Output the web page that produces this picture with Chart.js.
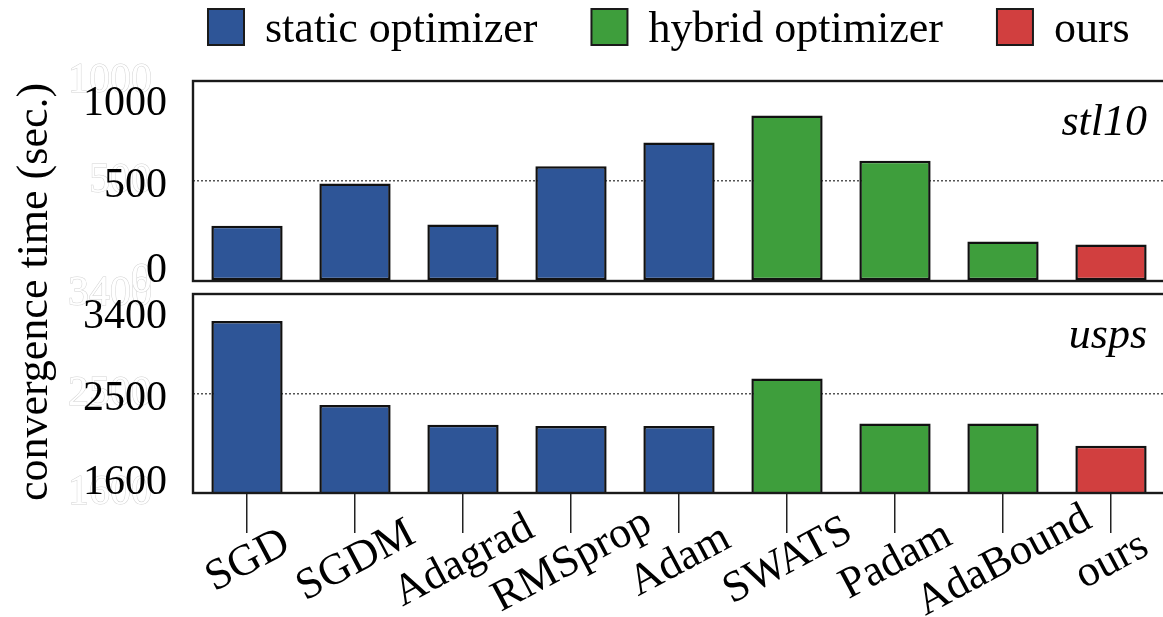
<!DOCTYPE html>
<html>
<head>
<meta charset="utf-8">
<script src="https://cdn.jsdelivr.net/npm/chart.js@4/dist/chart.umd.min.js"></script>
<style>
  html, body { margin: 0; padding: 0; background: #fff; overflow: hidden; width: 1163px; height: 617px; }
  #wrap { position: relative; width: 1163px; height: 617px; overflow: hidden; }
  #uspsPanel, #stl10Panel { position: absolute; left: 0; top: 0; }
</style>
</head>
<body>
<div id="wrap">
  <canvas id="uspsPanel" width="1180" height="617"></canvas>
  <canvas id="stl10Panel" width="1180" height="360"></canvas>
</div>
<script>
// ---- data ----
const optimizers = ['SGD', 'SGDM', 'Adagrad', 'RMSprop', 'Adam', 'SWATS', 'Padam', 'AdaBound', 'ours'];
const optimizerGroup = [0, 0, 0, 0, 0, 1, 1, 1, 2];
const groupNames = ['static optimizer', 'hybrid optimizer', 'ours'];
const groupColors = ['#2E5597', '#3E9E3C', '#D13F3F'];

const stl10Times = [276, 488, 283, 574, 693, 828, 601, 197, 182];
const uspsTimes = [3156, 2395, 2217, 2205, 2205, 2635, 2229, 2229, 2027];

const stl10Ticks = [0, 500, 1000];
const uspsTicks = [1600, 2500, 3400];

const yTitle = 'convergence time (sec.)';

// ---- styling ----
const SERIF = '"Liberation Serif", "Times New Roman", serif';
const PLOT_LEFT = 193;
const barColors = optimizerGroup.map(g => groupColors[g]);

// frame around each panel
const framePlugin = {
  id: 'panelFrame',
  afterDatasetsDraw(chart) {
    const { ctx, chartArea: a } = chart;
    ctx.save();
    ctx.strokeStyle = '#1a1a1a';
    ctx.lineWidth = 2.4;
    ctx.strokeRect(a.left, a.top, a.right - a.left, a.bottom - a.top);
    ctx.restore();
  }
};

// dark tick labels, kept inside each panel's vertical extent
function darkTickLabels(tickValues) {
  return {
    id: 'darkTickLabels',
    afterDraw(chart) {
      const { ctx, chartArea: a } = chart;
      const ys = chart.scales.y;
      ctx.save();
      ctx.font = '42px ' + SERIF;
      ctx.fillStyle = '#000';
      ctx.textAlign = 'right';
      ctx.textBaseline = 'alphabetic';
      tickValues.forEach(v => {
        let base = ys.getPixelForValue(v) + 16;
        base = Math.max(a.top + 34, Math.min(a.bottom + 1, base));
        ctx.fillText(String(v), a.left - 26, base);
      });
      ctx.restore();
    }
  };
}

// dataset name in the top-right corner of a panel
function panelName(name) {
  return {
    id: 'panelName',
    afterDraw(chart) {
      const { ctx, chartArea: a } = chart;
      ctx.save();
      ctx.font = 'italic 44px ' + SERIF;
      ctx.fillStyle = '#000';
      ctx.textAlign = 'right';
      ctx.textBaseline = 'alphabetic';
      ctx.fillText(name, a.right - 18, a.top + 54);
      ctx.restore();
    }
  };
}

// group legend across the top
const groupLegend = {
  id: 'groupLegend',
  afterDraw(chart) {
    const { ctx, chartArea: a } = chart;
    const box = 36, top = 9, base = 42;
    let x = a.left + 15;
    ctx.save();
    ctx.font = '44px ' + SERIF;
    ctx.textBaseline = 'alphabetic';
    groupNames.forEach((name, i) => {
      ctx.fillStyle = groupColors[i];
      ctx.fillRect(x, top, box, box);
      ctx.strokeStyle = '#1a1a1a';
      ctx.lineWidth = 2;
      ctx.strokeRect(x, top, box, box);
      ctx.fillStyle = '#000';
      ctx.fillText(name, x + box + 21, base);
      x += box + 21 + ctx.measureText(name).width + 54;
    });
    ctx.restore();
  }
};

// rotated category labels centred under their ticks, and the shared y title
const bottomText = {
  id: 'bottomText',
  afterDraw(chart) {
    const { ctx } = chart;
    const xs = chart.scales.x;
    ctx.save();
    ctx.font = '44px ' + SERIF;
    ctx.fillStyle = '#000';
    ctx.textAlign = 'center';
    ctx.textBaseline = 'middle';
    optimizers.forEach((lab, i) => {
      ctx.save();
      ctx.translate(xs.getPixelForValue(i) + 1, 561);
      ctx.rotate(-28 * Math.PI / 180);
      ctx.fillText(lab, 0, 0);
      ctx.restore();
    });
    ctx.font = '44px ' + SERIF;
    ctx.textBaseline = 'alphabetic';
    ctx.translate(47, 292);
    ctx.rotate(-Math.PI / 2);
    ctx.fillText(yTitle, 0, 0);
    ctx.restore();
  }
};

function yScale(tickValues) {
  return {
    min: tickValues[0],
    max: tickValues[tickValues.length - 1],
    afterBuildTicks: s => { s.ticks = tickValues.map(v => ({ value: v })); },
    afterFit: s => { s.width = PLOT_LEFT; },
    grid: {
      drawTicks: false,
      lineWidth: 1.5,
      color: c => (c.tick && c.tick.value === tickValues[1]) ? '#555' : 'rgba(0,0,0,0)'
    },
    border: { display: false, dash: [2, 2] },
    ticks: {
      padding: 41,
      font: { family: SERIF, size: 42 },
      color: '#ffffff',
      textStrokeColor: '#d2d2d2',
      textStrokeWidth: 1,
      callback: v => String(v)
    }
  };
}

function barDataset(values) {
  return {
    data: values,
    backgroundColor: barColors,
    borderColor: '#111',
    borderWidth: 2.5,
    borderSkipped: false,
    barPercentage: 0.66,
    categoryPercentage: 1.0
  };
}

const common = {
  responsive: false,
  animation: false,
  events: [],
  plugins: { legend: { display: false }, tooltip: { enabled: false } }
};

// upper panel: stl10 (its canvas reaches below the panel, the spare strip stays empty)
new Chart(document.getElementById('stl10Panel'), {
  type: 'bar',
  data: { labels: optimizers, datasets: [barDataset(stl10Times)] },
  options: Object.assign({}, common, {
    layout: { padding: { top: 81, bottom: 0, left: 0, right: 15 } },
    scales: {
      x: {
        afterFit: s => { s.height = 79; },
        grid: { display: false },
        border: { display: false },
        ticks: { display: false }
      },
      y: yScale(stl10Ticks)
    }
  }),
  plugins: [framePlugin, darkTickLabels(stl10Ticks), panelName('stl10'), groupLegend]
});

// lower panel: usps
new Chart(document.getElementById('uspsPanel'), {
  type: 'bar',
  data: { labels: optimizers, datasets: [barDataset(uspsTimes)] },
  options: Object.assign({}, common, {
    layout: { padding: { top: 294, bottom: 0, left: 0, right: 15 } },
    scales: {
      x: {
        afterFit: s => { s.height = 124; },
        grid: { display: true, drawOnChartArea: false, drawTicks: true, tickLength: 40, offset: false, color: '#222', lineWidth: 1.5 },
        border: { display: false },
        ticks: { display: false }
      },
      y: yScale(uspsTicks)
    }
  }),
  plugins: [framePlugin, darkTickLabels(uspsTicks), panelName('usps'), bottomText]
});
</script>
</body>
</html>
